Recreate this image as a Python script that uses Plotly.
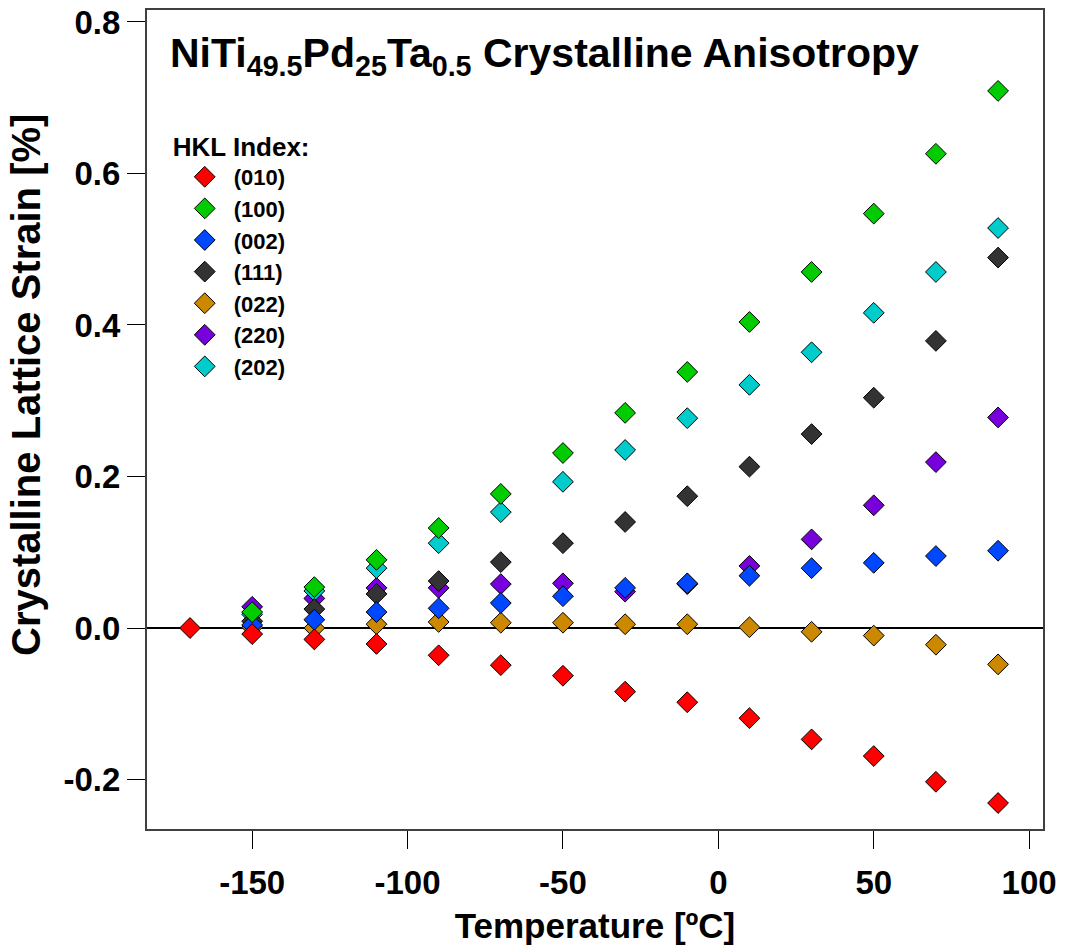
import plotly.graph_objects as go

# ---------------- data ----------------
temps_010 = [-170, -150, -130, -110, -90, -70, -50, -30, -10, 10, 30, 50, 70, 90]
temps = [-150, -130, -110, -90, -70, -50, -30, -10, 10, 30, 50, 70, 90]

strain_010 = [0.000, -0.008, -0.015, -0.021, -0.036, -0.049, -0.063, -0.084, -0.098, -0.119, -0.147, -0.169, -0.203, -0.231]
strain_100 = [0.021, 0.054, 0.090, 0.132, 0.177, 0.231, 0.284, 0.338, 0.404, 0.470, 0.547, 0.626, 0.709]
strain_002 = [0.004, 0.011, 0.021, 0.026, 0.033, 0.042, 0.053, 0.059, 0.069, 0.079, 0.086, 0.095, 0.102]
strain_111 = [0.009, 0.025, 0.045, 0.062, 0.087, 0.112, 0.140, 0.174, 0.213, 0.256, 0.304, 0.379, 0.489]
strain_022 = [0.001, 0.000, 0.005, 0.008, 0.007, 0.007, 0.005, 0.005, 0.001, -0.005, -0.010, -0.022, -0.048]
strain_220 = [0.028, 0.039, 0.053, 0.053, 0.058, 0.059, 0.048, 0.058, 0.082, 0.117, 0.162, 0.219, 0.278]
strain_202 = [0.018, 0.049, 0.079, 0.112, 0.153, 0.193, 0.235, 0.277, 0.321, 0.364, 0.416, 0.470, 0.528]

x_tickvals = [-150, -100, -50, 0, 50, 100]
x_ticktext = ["-150", "-100", "-50", "0", "50", "100"]
y_tickvals = [-0.2, 0.0, 0.2, 0.4, 0.6, 0.8]
y_ticktext = ["-0.2", "0.0", "0.2", "0.4", "0.6", "0.8"]

# (name, x, y, color, legend rank); listed in drawing order (bottom -> top)
series = [
    ("(022)", temps, strain_022, "#cc8800", 5),
    ("(220)", temps, strain_220, "#7700dd", 6),
    ("(202)", temps, strain_202, "#00cccc", 7),
    ("(111)", temps, strain_111, "#333333", 4),
    ("(002)", temps, strain_002, "#0048ff", 3),
    ("(100)", temps, strain_100, "#00cc00", 2),
    ("(010)", temps_010, strain_010, "#ff0000", 1),
]

FONT = "Liberation Sans, Arial, Helvetica, sans-serif"

fig = go.Figure()
for name, xs, ys, col, rank in series:
    fig.add_trace(go.Scatter(
        x=xs, y=ys, mode="markers", name=name, legendrank=rank,
        marker=dict(symbol="diamond", size=16, color=col,
                    line=dict(color="black", width=1)),
    ))

fig.update_layout(
    width=1065, height=945,
    margin=dict(l=147, r=22, t=10, b=116, autoexpand=False),
    paper_bgcolor="white", plot_bgcolor="white",
    font=dict(family=FONT, color="black", size=24, weight="bold"),
    showlegend=True,
    legend=dict(
        title=dict(text="HKL Index:", font=dict(size=26, weight="bold")),
        font=dict(size=22, weight="bold"),
        x=0.0265, y=0.863, xanchor="left", yanchor="top",
        bgcolor="rgba(0,0,0,0)", indentation=5, itemwidth=48,
    ),
    xaxis=dict(
        range=[-183.84, 104.46], automargin=False,
        tickvals=x_tickvals, ticktext=x_ticktext,
        ticks="outside", ticklen=18, tickwidth=1, tickcolor="black",
        showline=True, linecolor="#404040", linewidth=2, mirror=True,
        showgrid=False, zeroline=False,
        tickfont=dict(size=33, weight="bold"), ticklabelstandoff=5,
        title=dict(text="Temperature [ºC]", font=dict(size=35, weight="bold"), standoff=15),
    ),
    yaxis=dict(
        range=[-0.2653, 0.8158], automargin=False,
        tickvals=y_tickvals, ticktext=y_ticktext,
        ticks="outside", ticklen=18, tickwidth=1, tickcolor="black",
        showline=True, linecolor="#404040", linewidth=2, mirror=True,
        showgrid=False, zeroline=True, zerolinecolor="black", zerolinewidth=1.5,
        tickfont=dict(size=33, weight="bold"),
    ),
    annotations=[
        dict(
            text="NiTi<sub>49.5</sub>Pd<sub>25</sub>Ta<sub>0.5</sub> Crystalline Anisotropy",
            xref="paper", yref="paper", x=0.0234, y=(829 - 56) / 819,
            xanchor="left", yanchor="middle", showarrow=False,
            font=dict(size=41, weight="bold", family=FONT),
        ),
        dict(
            text="Crystalline Lattice Strain [%]",
            xref="paper", yref="paper", x=(26 - 147) / 896, y=(829 - 385) / 819,
            xanchor="center", yanchor="middle", textangle=-90, showarrow=False,
            font=dict(size=40, weight="bold", family=FONT),
        ),
    ],
)

fig.write_html("out.html")
